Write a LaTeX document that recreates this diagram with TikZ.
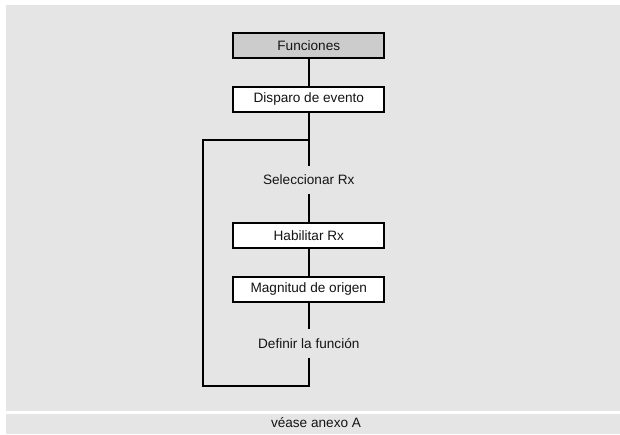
\documentclass[tikz,border=0pt]{standalone}
\usepackage{fontspec}
\setmainfont{Liberation Sans}
\usetikzlibrary{positioning}
\definecolor{fnback}{RGB}{229,229,229}
\definecolor{fnhead}{RGB}{204,204,204}
\definecolor{fntext}{RGB}{20,20,20}
\tikzset{
  box/.style={draw=black, fill=white, line width=2pt, minimum width=151pt, minimum height=25pt, inner sep=0pt, align=center, font=\fontsize{13.6}{16}\selectfont, text=fntext},
  hbox/.style={box, fill=fnhead},
  lbl/.style={inner sep=0pt, minimum height=28pt, align=center, font=\fontsize{13.6}{16}\selectfont, text=fntext},
  ln/.style={line width=2pt, black}
}

\begin{document}
\begin{tikzpicture}
  % background panels
  \fill[white] (0,0) rectangle (620pt,-434pt);
  \fill[fnback] (6pt,-5pt) rectangle (620pt,-411pt);
  \fill[fnback] (6pt,-414pt) rectangle (620pt,-434pt);
  \useasboundingbox (0,0) rectangle (620pt,-434pt);

  \node[hbox] (fun) at (308.8pt,-45.3pt) {Funciones};
  \node[box, below=26.7pt of fun] (disp) {Disparo de evento};
  \coordinate[below=27pt of disp] (top);
  \node[lbl, below=26.3pt of top] (sel) {Seleccionar Rx};
  \node[box, below=27.7pt of sel] (hab) {Habilitar Rx};
  \node[box, below=27pt of hab] (mag) {Magnitud de origen};
  \node[lbl, below=26.3pt of mag] (def) {Definir la función};
  \coordinate[below=28pt of def] (bot);
  \coordinate[left=106pt of bot] (botl);

  \draw[ln] (fun) -- (disp);
  \draw[ln] (disp) -- (top) -- (sel);
  \draw[ln] (sel) -- (hab);
  \draw[ln] (hab) -- (mag);
  \draw[ln] (mag) -- (def);
  \draw[ln] (def) -- (bot) -- (botl) |- (top);

  \node[lbl, minimum height=0pt] (ref) at (316pt,-423pt) {véase anexo A};
\end{tikzpicture}
\end{document}
